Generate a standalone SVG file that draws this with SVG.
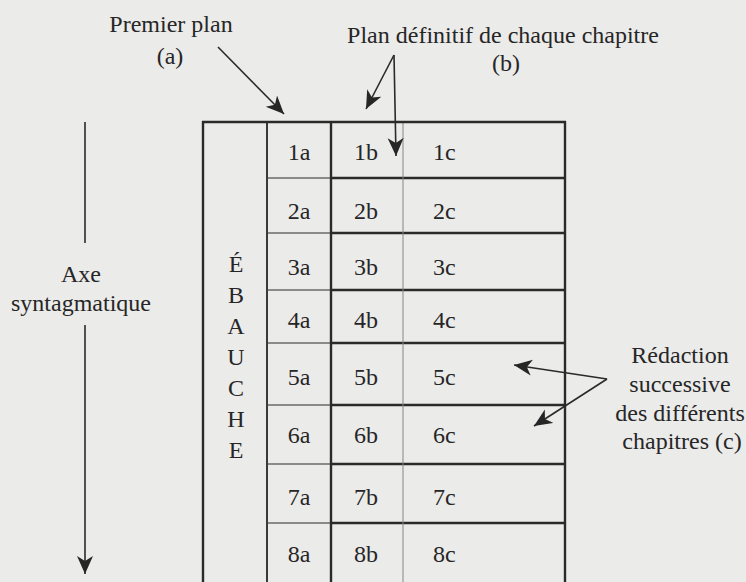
<svg xmlns="http://www.w3.org/2000/svg" width="746" height="582" viewBox="0 0 746 582">
  <defs>
    <marker id="ah" markerUnits="userSpaceOnUse" markerWidth="20" markerHeight="18" refX="18" refY="8" orient="auto">
      <path d="M0,0 L18,8 L0,16 L5,8 z" fill="#262626"/>
    </marker>
    <style>
      text { font-family: "Liberation Serif", "Times New Roman", serif; font-size: 24px; fill: #262626; }
      .c { text-anchor: middle; }
      .conn { stroke: #2a2a2a; stroke-width: 1.6; fill: none; }
      .thick { stroke: #2a2a2a; stroke-width: 2.4; }
      .med { stroke: #3a3a3a; stroke-width: 2; }
      .thin { stroke: #6a6a6a; stroke-width: 1.3; }
      .hair { stroke: #858585; stroke-width: 1; }
    </style>
  </defs>
  <rect width="746" height="582" fill="#ebebea"/>

  <g id="label-premier-plan">
    <text class="c" x="171" y="32">Premier plan</text>
    <text class="c" x="170" y="64">(a)</text>
  </g>
  <g id="label-plan-definitif">
    <text class="c" x="503" y="43">Plan définitif de chaque chapitre</text>
    <text class="c" x="506" y="71">(b)</text>
  </g>
  <g id="label-axe">
    <text class="c" x="81" y="282">Axe</text>
    <text class="c" x="81" y="311">syntagmatique</text>
  </g>
  <g id="label-redaction">
    <text class="c" x="680" y="363">Rédaction</text>
    <text class="c" x="680" y="392">successive</text>
    <text class="c" x="680" y="421">des différents</text>
    <text class="c" x="682" y="449">chapitres (c)</text>
  </g>

  <g id="table">
    <g class="thin">
      <line x1="267" y1="178" x2="331" y2="178"/>
      <line x1="267" y1="233" x2="331" y2="233"/>
      <line x1="267" y1="290" x2="331" y2="290"/>
      <line x1="267" y1="343" x2="331" y2="343"/>
      <line x1="267" y1="405" x2="331" y2="405"/>
      <line x1="267" y1="464" x2="331" y2="464"/>
      <line x1="267" y1="523" x2="331" y2="523"/>
    </g>
    <g class="thick">
      <line x1="331" y1="178" x2="566" y2="178"/>
      <line x1="331" y1="233" x2="566" y2="233"/>
      <line x1="331" y1="290" x2="566" y2="290"/>
      <line x1="331" y1="343" x2="566" y2="343"/>
      <line x1="331" y1="405" x2="566" y2="405"/>
      <line x1="331" y1="464" x2="566" y2="464"/>
      <line x1="331" y1="523" x2="566" y2="523"/>
    </g>
    <line class="hair" x1="403" y1="122" x2="403" y2="582"/>
    <line class="med" x1="267" y1="122" x2="267" y2="582"/>
    <line class="thick" x1="331" y1="122" x2="331" y2="582"/>
    <line class="thick" x1="203" y1="121" x2="203" y2="582"/>
    <line class="thick" x1="565" y1="121" x2="565" y2="582"/>
    <line class="thick" x1="202" y1="122" x2="566" y2="122"/>
  </g>

  <g id="ebauche">
    <text class="c" x="236" y="272">É</text>
    <text class="c" x="236" y="303">B</text>
    <text class="c" x="236" y="334">A</text>
    <text class="c" x="236" y="365">U</text>
    <text class="c" x="236" y="396">C</text>
    <text class="c" x="236" y="427">H</text>
    <text class="c" x="236" y="458">E</text>
  </g>

  <g id="row-1"><text class="c" x="299" y="160">1a</text><text class="c" x="366" y="160">1b</text><text x="433" y="160">1c</text></g>
  <g id="row-2"><text class="c" x="299" y="219">2a</text><text class="c" x="366" y="219">2b</text><text x="433" y="219">2c</text></g>
  <g id="row-3"><text class="c" x="299" y="275">3a</text><text class="c" x="366" y="275">3b</text><text x="433" y="275">3c</text></g>
  <g id="row-4"><text class="c" x="299" y="328">4a</text><text class="c" x="366" y="328">4b</text><text x="433" y="328">4c</text></g>
  <g id="row-5"><text class="c" x="299" y="385">5a</text><text class="c" x="366" y="385">5b</text><text x="433" y="385">5c</text></g>
  <g id="row-6"><text class="c" x="299" y="443">6a</text><text class="c" x="366" y="443">6b</text><text x="433" y="443">6c</text></g>
  <g id="row-7"><text class="c" x="299" y="505">7a</text><text class="c" x="366" y="505">7b</text><text x="433" y="505">7c</text></g>
  <g id="row-8"><text class="c" x="299" y="562">8a</text><text class="c" x="366" y="562">8b</text><text x="433" y="562">8c</text></g>

  <g id="connectors">
    <line class="conn" x1="85" y1="122" x2="85" y2="243"/>
    <line class="conn" x1="85" y1="325" x2="85" y2="574" marker-end="url(#ah)"/>
    <line class="conn" x1="218" y1="47" x2="284" y2="114" marker-end="url(#ah)"/>
    <line class="conn" x1="394" y1="55" x2="366" y2="109" marker-end="url(#ah)"/>
    <line class="conn" x1="394" y1="55" x2="396" y2="156" marker-end="url(#ah)"/>
    <line class="conn" x1="607" y1="379" x2="514" y2="365" marker-end="url(#ah)"/>
    <line class="conn" x1="607" y1="379" x2="534" y2="426" marker-end="url(#ah)"/>
  </g>
</svg>
